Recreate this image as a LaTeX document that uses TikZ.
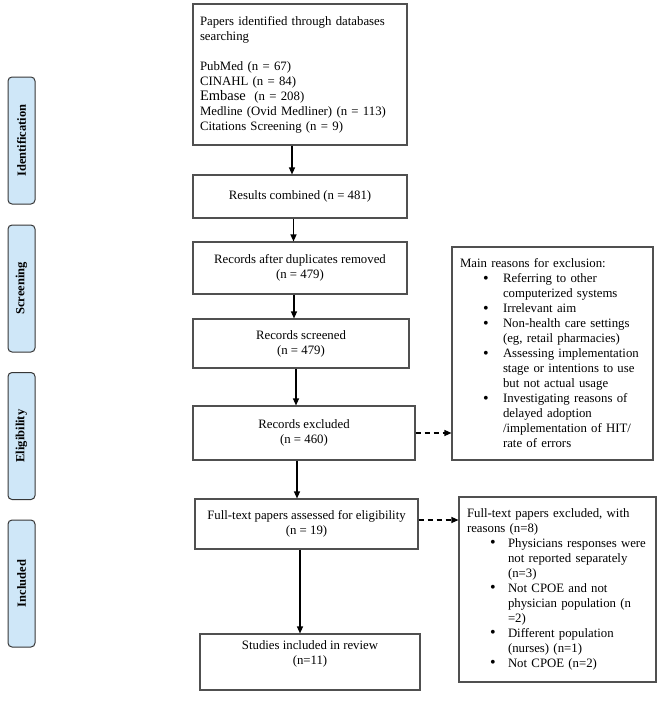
\documentclass[tikz,border=0pt]{standalone}
\usepackage{fontspec}
\setmainfont{Liberation Serif}
\usetikzlibrary{arrows.meta,calc}
\definecolor{boxgray}{RGB}{80,80,80}
\definecolor{phasefill}{RGB}{207,231,248}
\definecolor{phaseline}{RGB}{55,55,55}
\newcommand{\bi}[2]{\hspace*{23pt}\makebox[#1][l]{\raisebox{-0.3pt}{\scalebox{1.25}{\textbullet}}}#2}
\newcommand{\bc}[2]{\hspace*{\dimexpr23pt+#1\relax}#2}
\begin{document}
\begin{tikzpicture}[x=1pt,y=-1pt,
  txt/.style={font=\fontsize{12.8}{15}\selectfont},
  box/.style={txt,draw=boxgray,line width=1.1pt,inner sep=0pt,align=center},
  lbox/.style={txt,draw=boxgray,line width=1.1pt,inner ysep=0pt,inner xsep=#1,align=left},
  phase/.style={draw=phaseline,line width=1pt,fill=phasefill,rounded corners=4pt,
    minimum width=127pt,minimum height=27pt,inner sep=0pt,rotate=90,
    font=\fontsize{12.5}{14}\selectfont\bfseries},
  arr/.style={line width=1.2pt,-{Triangle[length=7pt,width=6pt]}},
  darr/.style={arr,dash pattern=on 5pt off 4pt}
]
\useasboundingbox (0,0) rectangle (658,704);

% phase labels
\node[phase] (pid) at (21.5,140.5) {Identification};
\node[phase] (psc) at (21.5,288.5) {Screening};
\node[phase] (pel) at (21.5,436) {Eligibility};
\node[phase] (pin) at (21.5,583.5) {Included};

% main flow boxes
\node[lbox=7pt,text width=200pt,minimum height=141pt] (top) at (300,74.5) {%
Papers identified through databases\\
searching\\[15pt]
PubMed (n = 67)\\
CINAHL (n = 84)\\
{\fontsize{14.5}{15}\selectfont Embase}\ \ (n = 208)\\
Medline (Ovid Medliner) (n = 113)\\
Citations Screening (n = 9)};

\node[box,minimum width=214pt,minimum height=43pt] (res) at (300,196.5) {Results combined (n = 481)};
\node[box,minimum width=214pt,minimum height=52pt] (dup) at (300,268) {Records after duplicates removed\\(n = 479)};
\node[box,minimum width=216pt,minimum height=49pt] (scr) at (301,343.5) {Records screened\\(n = 479)};
\node[box,minimum width=222pt,minimum height=54pt] (exc) at (304,433) {Records excluded\\(n = 460)};
\node[box,minimum width=223pt,minimum height=50pt] (ft) at (306.5,524) {Full-text papers assessed for eligibility\\(n = 19)};
\node[box,minimum width=220pt,minimum height=56pt] (inc) at (310,662) {Studies included in review\\(n=11)\\[4pt]};

% side boxes
\node[lbox=8pt,text width=185pt,minimum height=213pt] (rb1) at (552.5,353.5) {%
Main reasons for exclusion:\\
\bi{20pt}{Referring to other}\\
\bc{20pt}{computerized systems}\\
\bi{20pt}{Irrelevant aim}\\
\bi{20pt}{Non-health care settings}\\
\bc{20pt}{(eg, retail pharmacies)}\\
\bi{20pt}{Assessing implementation}\\
\bc{20pt}{stage or intentions to use}\\
\bc{20pt}{but not actual usage}\\
\bi{20pt}{Investigating reasons of}\\
\bc{20pt}{delayed adoption}\\
\bc{20pt}{/implementation of HIT/}\\
\bc{20pt}{rate of errors}};

\node[lbox=8pt,text width=181pt,minimum height=185pt] (rb2) at (557.5,589.5) {%
Full-text papers excluded, with\\
reasons (n=8)\\
\bi{18pt}{Physicians responses were}\\
\bc{18pt}{not reported separately}\\
\bc{18pt}{(n=3)}\\
\bi{18pt}{Not CPOE and not}\\
\bc{18pt}{physician population (n}\\
\bc{18pt}{=2)}\\
\bi{18pt}{Different population}\\
\bc{18pt}{(nurses) (n=1)}\\
\bi{18pt}{Not CPOE (n=2)}};

% connector x positions
\coordinate (c1) at (292,0);
\coordinate (c2) at (293.5,0);
\coordinate (c3) at (294,0);
\coordinate (c4) at (296,0);
\coordinate (c5) at (297,0);
\coordinate (c6) at (300,0);
\coordinate (d2) at (0,520);

\draw[arr] (top.south -| c1) -- (res.north -| c1);
\draw[arr] (res.south -| c2) -- (dup.north -| c2);
\draw[arr] (dup.south -| c3) -- (scr.north -| c3);
\draw[arr] (scr.south -| c4) -- (exc.north -| c4);
\draw[arr] (exc.south -| c5) -- (ft.north -| c5);
\draw[arr] (ft.south -| c6) -- (inc.north -| c6);

\draw[darr] (exc.east) -- (exc.east -| rb1.west);
\draw[darr] (ft.east |- d2) -- (rb2.west |- d2);
\end{tikzpicture}
\end{document}
